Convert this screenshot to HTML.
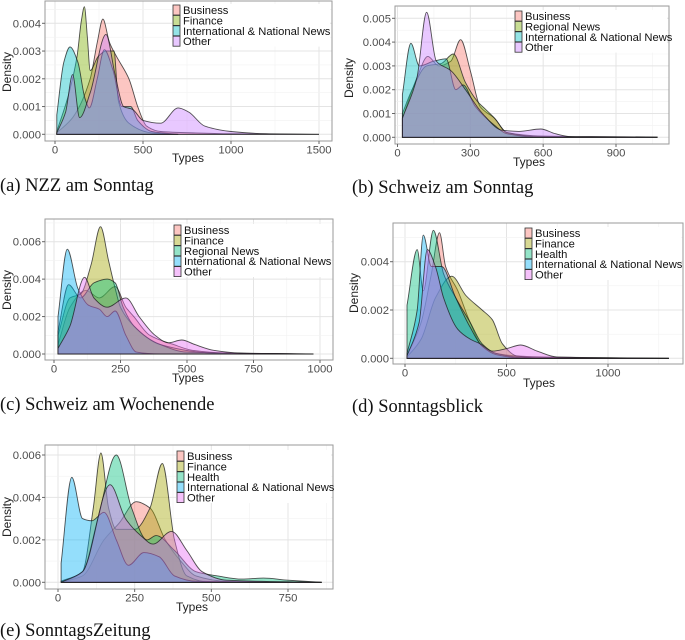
<!DOCTYPE html>
<html><head><meta charset="utf-8"><style>
body{margin:0;background:#fff;width:685px;height:640px;overflow:hidden}
svg{display:block;font-family:"Liberation Sans",sans-serif}
.cap{font-family:"Liberation Serif",serif;font-size:18.5px;fill:#111}
</style></head><body>
<svg id="fig" width="685" height="640" viewBox="0 0 685 640"></svg>
<script>
// ---- data (Types, density in units of 0.001) ----
const aCategories = ["Business","Finance","International & National News","Other"];
const aBusiness = [[10,0.05],[100,0.6],[200,2.0],[240,3.3],[272,4.15],[310,3.3],[350,2.8],[420,2.0],[470,1.0],[520,0.3],[600,0.1],[800,0.05],[1000,0.02],[1500,0]];
const aFinance = [[10,0.1],[80,1.5],[125,2.8],[150,4.1],[167,4.6],[185,3.4],[200,2.3],[245,2.8],[290,3.0],[335,3.0],[360,1.2],[420,0.4],[550,0.05],[700,0]];
const aIntl = [[10,0.7],[50,2.6],[85,3.15],[130,2.6],[170,1.3],[195,0.95],[240,2.0],[280,3.05],[330,2.3],[380,1.0],[430,1.0],[470,0.5],[550,0.1],[700,0]];
const aOther = [[10,0.05],[60,0.8],[100,2.15],[140,0.6],[200,1.5],[290,3.6],[340,2.2],[390,1.0],[440,0.9],[500,0.5],[600,0.4],[700,0.95],[760,0.8],[850,0.3],[1000,0.1],[1200,0.02],[1500,0]];
const aXTicks = [0,500,1000,1500];
const aYTicks = [0,1,2,3,4];

const bCategories = ["Business","Regional News","International & National News","Other"];
const bBusiness = [[20,0.8],[80,2.5],[125,3.4],[170,3.0],[220,3.2],[260,4.1],[300,2.8],[340,1.3],[400,0.8],[450,0.2],[600,0.05],[1070,0]];
const bRegional = [[20,1.0],[60,2.0],[120,3.0],[180,3.1],[230,3.5],[280,2.3],[330,1.5],[360,1.2],[400,0.8],[450,0.2],[600,0.02],[1070,0]];
const bIntl = [[20,1.8],[55,3.95],[90,3.0],[150,3.2],[200,3.3],[240,2.0],[270,2.2],[320,1.3],[400,0.5],[450,0.15],[600,0],[1070,0]];
const bOther = [[20,0.8],[80,2.5],[120,5.25],[160,3.2],[220,2.8],[280,2.0],[350,1.0],[430,0.3],[500,0.25],[590,0.35],[650,0.15],[720,0.02],[800,0.03],[1070,0.01]];
const bXTicks = [0,300,600,900];
const bYTicks = [0,1,2,3,4,5];

const cCategories = ["Business","Finance","Regional News","International & National News","Other"];
const cBusiness = [[15,0.5],[60,2.5],[120,3.4],[170,3.0],[230,3.6],[270,2.5],[300,2.0],[360,1.0],[450,0.5],[520,0.2],[650,0.05],[975,0]];
const cFinance = [[15,1.0],[60,3.0],[100,3.2],[140,4.8],[175,6.8],[205,5.0],[230,3.5],[250,2.5],[300,1.5],[400,0.5],[600,0.05],[975,0]];
const cRegional = [[15,1.2],[55,3.7],[100,3.0],[150,3.8],[200,4.0],[230,3.8],[260,2.5],[300,1.5],[400,0.5],[500,0.1],[975,0]];
const cIntl = [[15,2.0],[50,5.6],[90,3.5],[130,2.6],[170,2.4],[200,2.0],[230,2.3],[270,1.0],[310,0.1],[400,0],[975,0]];
const cOther = [[15,0.3],[60,1.5],[115,4.1],[150,3.0],[200,2.5],[270,3.0],[320,2.0],[380,1.0],[430,0.6],[480,0.75],[530,0.5],[600,0.2],[700,0.05],[975,0]];
const cXTicks = [0,250,500,750,1000];
const cYTicks = [0,2,4,6];

const dCategories = ["Business","Finance","Health","International & National News","Other"];
const dBusiness = [[10,0.1],[80,1.5],[130,3.5],[170,5.2],[200,3.8],[260,2.8],[320,1.5],[380,0.5],[450,0.2],[550,0.1],[700,0.05],[1300,0]];
const dFinance = [[10,0.05],[80,0.8],[150,2.5],[230,3.4],[300,2.6],[380,2.0],[430,1.6],[480,0.6],[550,0.1],[700,0],[1300,0]];
const dHealth = [[10,2.2],[60,4.5],[90,2.8],[140,5.3],[190,3.5],[250,2.5],[320,1.5],[380,0.6],[450,0.2],[600,0.03],[1300,0]];
const dIntl = [[10,0.2],[60,2.0],[90,5.1],[130,3.8],[180,3.8],[250,2.5],[320,1.3],[380,0.5],[450,0.15],[600,0],[1300,0]];
const dOther = [[10,0.1],[70,1.5],[110,4.5],[150,3.8],[190,2.5],[260,1.2],[320,0.8],[370,0.6],[430,0.3],[500,0.4],[570,0.55],[650,0.3],[750,0.05],[1300,0]];
const dXTicks = [0,500,1000];
const dYTicks = [0,2,4];

const eCategories = ["Business","Finance","Health","International & National News","Other"];
const eBusiness = [[10,0],[80,0.3],[150,2.0],[200,2.8],[255,3.8],[300,3.5],[350,2.0],[400,1.0],[450,0.3],[550,0.05],[860,0]];
const eFinance = [[10,0],[80,0.5],[115,3.5],[140,6.1],[165,3.5],[190,2.5],[250,2.5],[300,3.5],[340,5.6],[380,2.0],[420,0.3],[500,0],[860,0]];
const eHealth = [[10,0.05],[80,0.5],[130,3.0],[190,6.0],[240,3.5],[290,2.0],[320,2.2],[380,1.5],[450,0.5],[520,0.3],[600,0.15],[670,0.2],[750,0.1],[860,0]];
const eIntl = [[10,0.9],[45,4.95],[80,3.0],[110,2.9],[150,3.3],[190,2.0],[230,0.8],[280,1.4],[330,1.2],[380,0.3],[450,0.05],[860,0]];
const eOther = [[10,0],[80,0.5],[170,4.6],[220,3.0],[270,2.2],[310,1.8],[370,2.4],[420,1.5],[470,0.5],[550,0.1],[860,0]];
const eXTicks = [0,250,500,750];
const eYTicks = [0,2,4,6];

const colors4 = ["#F8766D","#7CAE00","#00BFC4","#C77CFF"];
const colors5 = ["#F8766D","#A3A500","#00BF7D","#00B0F6","#E76BF3"];

// ---- layout (geometry only) ----
const panels = [
 {id:"a",cap:"(a) NZZ am Sonntag",cats:aCategories,series:[aBusiness,aFinance,aIntl,aOther],cols:colors4,xt:aXTicks,yt:aYTicks,
  box:[45,1,332,141],xr:[0,1500,55,319],yr:[0,4,134.3,23.3],leg:[173,10],types:[188,162],dens:[11,72],capPos:[0,191]},
 {id:"b",cap:"(b) Schweiz am Sonntag",cats:bCategories,series:[bBusiness,bRegional,bIntl,bOther],cols:colors4,xt:bXTicks,yt:bYTicks,
  box:[395,6,669,144],xr:[0,900,397.5,616],yr:[0,5,137.3,18.3],leg:[515,16],types:[529,166],dens:[353,78],capPos:[352,193]},
 {id:"c",cap:"(c) Schweiz am Wochenende",cats:cCategories,series:[cBusiness,cFinance,cRegional,cIntl,cOther],cols:colors5,xt:cXTicks,yt:cYTicks,
  box:[45,219,333,360],xr:[0,1000,54,320],yr:[0,6,354,241.7],leg:[174,230],types:[188,382],dens:[11,290],capPos:[0,410]},
 {id:"d",cap:"(d) Sonntagsblick",cats:dCategories,series:[dBusiness,dFinance,dHealth,dIntl,dOther],cols:colors5,xt:dXTicks,yt:dYTicks,
  box:[393,223,683,364],xr:[0,1000,405,608],yr:[0,4,358.3,261.7],leg:[525,233],types:[539,387],dens:[358,293],capPos:[352,412]},
 {id:"e",cap:"(e) SonntagsZeitung",cats:eCategories,series:[eBusiness,eFinance,eHealth,eIntl,eOther],cols:colors5,xt:eXTicks,yt:eYTicks,
  box:[45,445,333,589],xr:[0,750,58,288],yr:[0,6,582.3,455],leg:[177,456],types:[192,611],dens:[11,517],capPos:[0,636]}
];

const NS="http://www.w3.org/2000/svg";
const svg=document.getElementById("fig");
function mk(tag,attrs,parent){const e=document.createElementNS(NS,tag);for(const k in attrs)e.setAttribute(k,attrs[k]);(parent||svg).appendChild(e);return e;}

// monotone cubic (Fritsch-Carlson) in pixel space
function smoothPath(pts){
  const n=pts.length, h=[], s=[], m=[];
  for(let i=0;i<n-1;i++){h[i]=pts[i+1][0]-pts[i][0]; s[i]=(pts[i+1][1]-pts[i][1])/h[i];}
  m[0]=s[0]; m[n-1]=s[n-2];
  for(let i=1;i<n-1;i++){
    if(s[i-1]*s[i]<=0) m[i]=0;
    else { const w1=2*h[i]+h[i-1], w2=h[i]+2*h[i-1]; m[i]=(w1+w2)/(w1/s[i-1]+w2/s[i]); }
  }
  let d="M"+pts[0][0].toFixed(1)+","+pts[0][1].toFixed(1);
  for(let i=0;i<n-1;i++){
    const p1=pts[i],p2=pts[i+1],hh=h[i]/3;
    d+=" C"+(p1[0]+hh).toFixed(1)+","+(p1[1]+m[i]*hh).toFixed(1)+" "+(p2[0]-hh).toFixed(1)+","+(p2[1]-m[i+1]*hh).toFixed(1)+" "+p2[0].toFixed(1)+","+p2[1].toFixed(1);
  }
  return d;
}

panels.forEach(p=>{
  const g=mk("g",{});
  
  
  const [L,T,R,B]=p.box;
  const sx=v=>p.xr[2]+(v-p.xr[0])*(p.xr[3]-p.xr[2])/(p.xr[1]-p.xr[0]);
  const sy=v=>p.yr[2]+(v-p.yr[0])*(p.yr[3]-p.yr[2])/(p.yr[1]-p.yr[0]);
  mk("rect",{x:L,y:T,width:R-L,height:B-T,fill:"#fff"},g);
  const xs=p.xt, ys=p.yt;
  const dx=xs[1]-xs[0], dy=ys[1]-ys[0];
  for(let v=xs[0]-dx/2; v<=xs[xs.length-1]+dx; v+=dx/2){
    const X=sx(v); if(X<=L||X>=R) continue;
    const major=xs.includes(v);
    mk("line",{x1:X,x2:X,y1:T,y2:B,stroke:major?"#e4e4e4":"#f2f2f2","stroke-width":major?1:0.6},g);
  }
  for(let v=ys[0]-dy/2; v<=ys[ys.length-1]+dy; v+=dy/2){
    const Y=sy(v); if(Y<=T||Y>=B) continue;
    const major=ys.includes(v);
    mk("line",{x1:L,x2:R,y1:Y,y2:Y,stroke:major?"#e4e4e4":"#f2f2f2","stroke-width":major?1:0.6},g);
  }
  p.series.forEach((s,i)=>{
    const pts=s.map(q=>[sx(q[0]),sy(Math.max(0,q[1]))]);
    const d=smoothPath(pts)+" L"+pts[pts.length-1][0].toFixed(1)+","+sy(0).toFixed(1)+" L"+pts[0][0].toFixed(1)+","+sy(0).toFixed(1)+" Z";
    const path=mk("path",{d:d,fill:p.cols[i],"fill-opacity":0.42,stroke:"#1a1a1a","stroke-opacity":0.75,"stroke-width":0.9},g);
    
    
  });
  mk("rect",{x:L,y:T,width:R-L,height:B-T,fill:"none",stroke:"#9a9a9a","stroke-width":1},g);
  xs.forEach(v=>{
    const X=sx(v);
    mk("line",{x1:X,x2:X,y1:B,y2:B+3,stroke:"#666"},g);
    const t=mk("text",{x:X,y:B+12.5,"font-size":11.3,fill:"#4d4d4d","text-anchor":"middle"},g);
    t.textContent=String(v);
    
    
  });
  ys.forEach(v=>{
    const Y=sy(v);
    mk("line",{x1:L-3,x2:L,y1:Y,y2:Y,stroke:"#666"},g);
    const t=mk("text",{x:L-4,y:Y+4,"font-size":11.3,fill:"#4d4d4d","text-anchor":"end"},g);
    t.textContent=(v/1000).toFixed(3);
    
    
  });
  const xt=mk("text",{x:p.types[0],y:p.types[1],"font-size":12,fill:"#222","text-anchor":"middle"},g);
  xt.textContent="Types";
  
  
  const yt=mk("text",{x:p.dens[0],y:p.dens[1],"font-size":12,fill:"#222","text-anchor":"middle",transform:"rotate(-90 "+p.dens[0]+" "+p.dens[1]+")"},g);
  yt.textContent="Density";
  
  
  const lg=mk("g",{},g);
  
  
  const rowH=10.4;
  mk("rect",{x:p.leg[0]-1,y:p.leg[1]-6,width:R-p.leg[0]-1,height:rowH*p.cats.length+1,fill:"#fff"},lg);
  p.cats.forEach((c,i)=>{
    const cy=p.leg[1]+i*rowH;
    const k=mk("rect",{x:p.leg[0],y:cy-5,width:7,height:10,fill:p.cols[i],"fill-opacity":0.42,stroke:"#333","stroke-width":0.8},lg);
    
    
    const t=mk("text",{x:p.leg[0]+10,y:cy+4,"font-size":11.2,fill:"#111"},lg);
    t.textContent=c;
    
    
  });
  const cap=mk("text",{x:p.capPos[0],y:p.capPos[1],class:"cap"});
  cap.textContent=p.cap;
  
  
});
</script>
</body></html>
